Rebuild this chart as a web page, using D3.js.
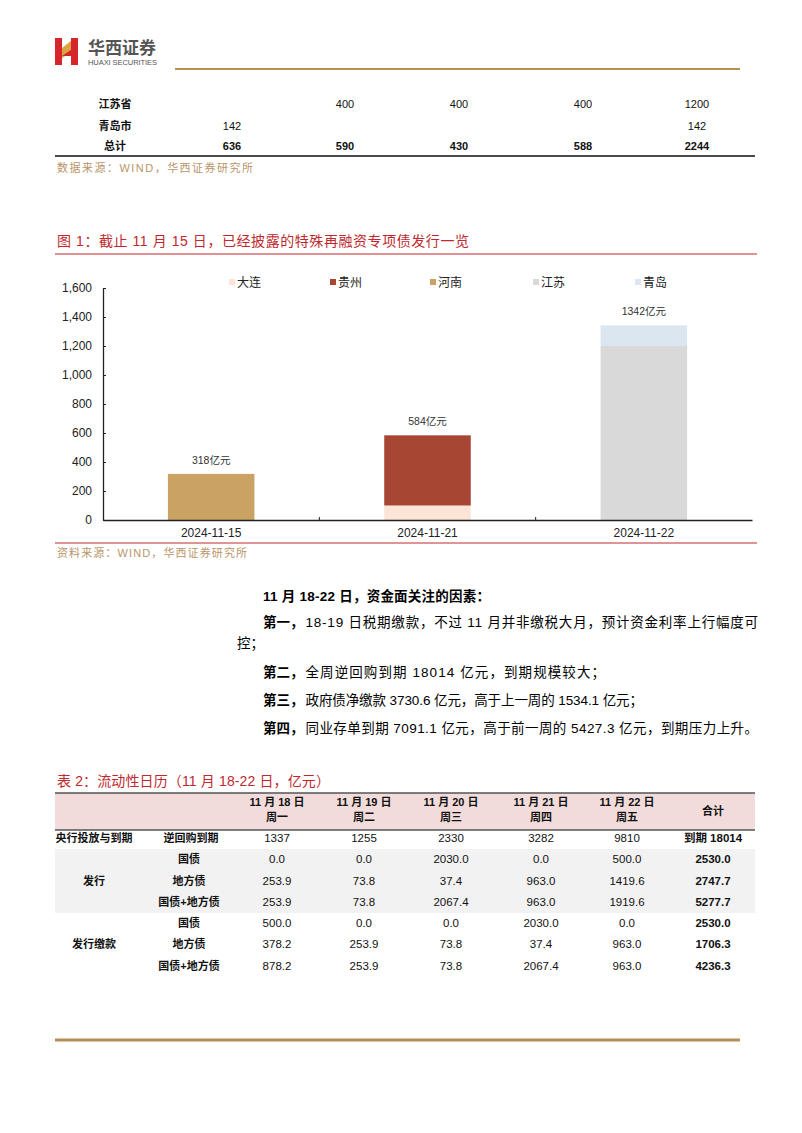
<!DOCTYPE html>
<html><head><meta charset="utf-8">
<script src="https://cdn.jsdelivr.net/npm/d3@7"></script>
<style>
html,body{margin:0;padding:0;background:#fff;}
svg{display:block;}
text{font-family:"Liberation Sans","Noto Sans CJK SC",sans-serif;}
</style></head>
<body>
<svg id="page" width="802" height="1133"></svg>
<script>
// ---------- data ----------
const topRowLabels = ["江苏省","青岛市","总计"];
const topJiangsu = ["","400","400","400","1200"];
const topQingdao = ["142","","","","142"];
const topTotal = ["636","590","430","588","2244"];

const categories = ["2024-11-15","2024-11-21","2024-11-22"];
const seriesNames = ["大连","贵州","河南","江苏","青岛"];
const dalian  = [0,100,0];
const guizhou = [0,484,0];
const henan   = [318,0,0];
const jiangsu = [0,0,1200];
const qingdao = [0,0,142];
const yTicks = [0,200,400,600,800,1000,1200,1400,1600];
const seriesColors = ["#fce4d6","#a84634","#c9a264","#d9d9d9","#dce6f1"];

const t2Dates = ["11 月 18 日","11 月 19 日","11 月 20 日","11 月 21 日","11 月 22 日"];
const t2Weekdays = ["周一","周二","周三","周四","周五"];
const t2Groups = ["央行投放与到期","发行","发行缴款"];
const t2Items = ["逆回购到期","国债","地方债","国债+地方债","国债","地方债","国债+地方债"];
const t2Values = [
  ["1337","1255","2330","3282","9810"],
  ["0.0","0.0","2030.0","0.0","500.0"],
  ["253.9","73.8","37.4","963.0","1419.6"],
  ["253.9","73.8","2067.4","963.0","1919.6"],
  ["500.0","0.0","0.0","2030.0","0.0"],
  ["378.2","253.9","73.8","37.4","963.0"],
  ["878.2","253.9","73.8","2067.4","963.0"]
];
const t2Totals = ["到期 18014","2530.0","2747.7","5277.7","2530.0","1706.3","4236.3"];

// ---------- page ----------
const svg = d3.select("#page");
const RED = "#c0282d", GOLD = "#b8956a";

// logo
const logo = svg.append("g");
logo.append("path").attr("d","M55,38 L62,38 L62,65 L55,65 Z").attr("fill","#d7262b");
logo.append("path").attr("d","M62,48 L72,40 L72,52 L62,58 Z").attr("fill","#d9a441");
logo.append("path").attr("d","M71,38 L78,38 L78,65 L71,65 Z").attr("fill","#d7262b");
logo.append("path").attr("d","M62,56 L71,50 L71,56 Z").attr("fill","#d7262b");
logo.append("text").attr("x",88).attr("y",54).attr("font-size",17).attr("font-weight","bold")
  .attr("fill","#555").text("华西证券");
logo.append("text").attr("x",88).attr("y",64.5).attr("font-size",7.5).attr("fill","#555")
  .attr("textLength",69).text("HUAXI SECURITIES");
svg.append("line").attr("x1",175).attr("x2",740).attr("y1",69).attr("y2",69)
  .attr("stroke","#b8914f").attr("stroke-width",2);

// top table
const topCols = [232,345,459,583,697];
const topYs = [108,130,150];
const topData = [topJiangsu, topQingdao, topTotal];
topRowLabels.forEach((l,i)=>{
  svg.append("text").attr("x",115).attr("y",topYs[i]).attr("text-anchor","middle")
    .attr("font-size",11).attr("font-weight","bold").attr("fill","#111").text(l);
  topData[i].forEach((v,j)=>{
    svg.append("text").attr("x",topCols[j]).attr("y",topYs[i]).attr("text-anchor","middle")
      .attr("font-size",11).attr("font-weight",i===2?"bold":"normal").attr("fill","#111").text(v);
  });
});
svg.append("line").attr("x1",55).attr("x2",755).attr("y1",156).attr("y2",156)
  .attr("stroke","#111").attr("stroke-width",1.5);
svg.append("text").attr("x",57).attr("y",172).attr("font-size",11).attr("fill",GOLD)
  .attr("textLength",196).text("数据来源：WIND，华西证券研究所");

// chart title
svg.append("text").attr("x",57).attr("y",246).attr("font-size",14).attr("fill",RED)
  .attr("textLength",412).text("图 1：截止 11 月 15 日，已经披露的特殊再融资专项债发行一览");
svg.append("line").attr("x1",55).attr("x2",757).attr("y1",254).attr("y2",254)
  .attr("stroke",RED).attr("stroke-width",1);

// ---------- chart ----------
const x = d3.scaleBand().domain(categories).range([103,752]).paddingInner(0.6).paddingOuter(0.3);
const y = d3.scaleLinear().domain([0,1600]).range([520,288]);
const seriesVals = [dalian,guizhou,henan,jiangsu,qingdao];
const rows = categories.map((c,i)=>{
  const o = {cat:c};
  seriesNames.forEach((s,k)=>o[s]=seriesVals[k][i]);
  return o;
});
const stacked = d3.stack().keys(seriesNames)(rows);
const color = d3.scaleOrdinal().domain(seriesNames).range(seriesColors);

const chart = svg.append("g");
chart.selectAll("g.layer").data(stacked).join("g").attr("fill",d=>color(d.key))
  .selectAll("rect").data(d=>d).join("rect")
  .attr("x",d=>x(d.data.cat)).attr("width",x.bandwidth())
  .attr("y",d=>y(d[1])).attr("height",d=>y(d[0])-y(d[1]));

// totals labels
categories.forEach((c,i)=>{
  const tot = d3.sum(seriesVals,s=>s[i]);
  chart.append("text").attr("x",x(c)+x.bandwidth()/2).attr("y",y(tot)-10)
    .attr("text-anchor","middle").attr("font-size",10.5).attr("fill","#333").text(tot+"亿元");
});

// y axis
const yAxis = chart.append("g").attr("transform","translate(103,0)")
  .call(d3.axisLeft(y).tickValues(yTicks).tickSizeInner(-3).tickSizeOuter(0).tickPadding(11)
    .tickFormat(d3.format(",")));
yAxis.select(".domain").attr("stroke","#222").attr("stroke-width",1.3);
yAxis.selectAll(".tick line").attr("stroke","#222");
yAxis.selectAll("text").attr("font-size",12).attr("fill","#222")
  .attr("font-family","Liberation Sans, sans-serif");

// x axis
const xAxis = chart.append("g").attr("transform","translate(0,520)")
  .call(d3.axisBottom(x).tickSize(0).tickPadding(8));
xAxis.select(".domain").attr("stroke","#222").attr("stroke-width",1.3);
xAxis.selectAll("text").attr("font-size",12).attr("fill","#222")
  .attr("font-family","Liberation Sans, sans-serif");
const step = x.step();
categories.slice(0,-1).forEach(c=>{
  const bx = x(c)+x.bandwidth()+step*x.paddingInner()/2;
  chart.append("line").attr("x1",bx).attr("x2",bx).attr("y1",520).attr("y2",517)
    .attr("stroke","#222");
});

// legend
const legendX = [232,333,433,536,638];
seriesNames.forEach((s,i)=>{
  svg.append("rect").attr("x",legendX[i]-3).attr("y",279).attr("width",6).attr("height",6)
    .attr("fill",color(s));
  svg.append("text").attr("x",legendX[i]+5).attr("y",286.5).attr("font-size",12)
    .attr("fill","#222").text(s);
});

svg.append("line").attr("x1",55).attr("x2",757).attr("y1",543).attr("y2",543)
  .attr("stroke",RED).attr("stroke-width",1);
svg.append("text").attr("x",57).attr("y",557).attr("font-size",11).attr("fill",GOLD)
  .attr("textLength",190).text("资料来源：WIND，华西证券研究所");

// ---------- paragraph ----------
const para = [
  {x:263,y:601,b:"11 月 18-22 日，资金面关注的因素：",t:"",end:490},
  {x:263,y:627,b:"第一，",t:"18-19 日税期缴款，不过 11 月并非缴税大月，预计资金利率上行幅度可",end:758},
  {x:237,y:648,b:"",t:"控；",end:null},
  {x:263,y:677,b:"第二，",t:"全周逆回购到期 18014 亿元，到期规模较大；",end:605},
  {x:263,y:705,b:"第三，",t:"政府债净缴款 3730.6 亿元，高于上一周的 1534.1 亿元；",end:643},
  {x:263,y:733,b:"第四，",t:"同业存单到期 7091.1 亿元，高于前一周的 5427.3 亿元，到期压力上升。",end:758}
];
para.forEach(p=>{
  let cx = p.x;
  if(p.b){
    const bt = svg.append("text").attr("x",cx).attr("y",p.y).attr("font-size",13.5)
      .attr("font-weight","bold").attr("fill","#000").text(p.b);
    if(!p.t && p.end) bt.attr("textLength",p.end-cx).attr("lengthAdjust","spacing");
    cx += bt.node().getComputedTextLength()+2;
  }
  if(p.t){
    const tt = svg.append("text").attr("x",cx).attr("y",p.y).attr("font-size",13.5)
      .attr("fill","#000").text(p.t);
    if(p.end) tt.attr("textLength",p.end-cx).attr("lengthAdjust","spacing");
  }
});

// ---------- table 2 ----------
svg.append("text").attr("x",57).attr("y",786).attr("font-size",14).attr("fill",RED)
  .attr("textLength",273).text("表 2：流动性日历（11 月 18-22 日，亿元）");
svg.append("rect").attr("x",55).attr("y",793).attr("width",700).attr("height",37).attr("fill","#f2dcdb");
svg.append("line").attr("x1",55).attr("x2",755).attr("y1",793).attr("y2",793)
  .attr("stroke","#555").attr("stroke-width",1.5);
svg.append("line").attr("x1",55).attr("x2",755).attr("y1",830).attr("y2",830)
  .attr("stroke","#555").attr("stroke-width",1.5);
svg.append("rect").attr("x",55).attr("y",849).attr("width",700).attr("height",64).attr("fill","#f2f2f2");

const dateCols = [277,364,451,541,627];
const totalCol = 713;
t2Dates.forEach((d,i)=>{
  svg.append("text").attr("x",dateCols[i]).attr("y",806).attr("text-anchor","middle")
    .attr("font-size",11).attr("font-weight","bold").attr("fill","#111").text(d);
  svg.append("text").attr("x",dateCols[i]).attr("y",821).attr("text-anchor","middle")
    .attr("font-size",11).attr("font-weight","bold").attr("fill","#111").text(t2Weekdays[i]);
});
svg.append("text").attr("x",totalCol).attr("y",815).attr("text-anchor","middle")
  .attr("font-size",11).attr("font-weight","bold").attr("fill","#111").text("合计");

const rowYs = [842,863,885,906,927,948,970];
const groupYs = [842,885,948];
t2Groups.forEach((g,i)=>{
  svg.append("text").attr("x",94).attr("y",groupYs[i]).attr("text-anchor","middle")
    .attr("font-size",11).attr("font-weight","bold").attr("fill","#111").text(g);
});
t2Items.forEach((it,r)=>{
  svg.append("text").attr("x",r===0?191:189).attr("y",rowYs[r]).attr("text-anchor","middle")
    .attr("font-size",11).attr("font-weight","bold").attr("fill","#111").text(it);
  t2Values[r].forEach((v,j)=>{
    svg.append("text").attr("x",dateCols[j]).attr("y",rowYs[r]).attr("text-anchor","middle")
      .attr("font-size",11.5).attr("fill","#111").text(v);
  });
  svg.append("text").attr("x",totalCol).attr("y",rowYs[r]).attr("text-anchor","middle")
    .attr("font-size",11.5).attr("font-weight","bold").attr("fill","#111").text(t2Totals[r]);
});

// footer line
svg.append("line").attr("x1",55).attr("x2",740).attr("y1",1040).attr("y2",1040)
  .attr("stroke","#b08d57").attr("stroke-width",3);
</script>
</body></html>
